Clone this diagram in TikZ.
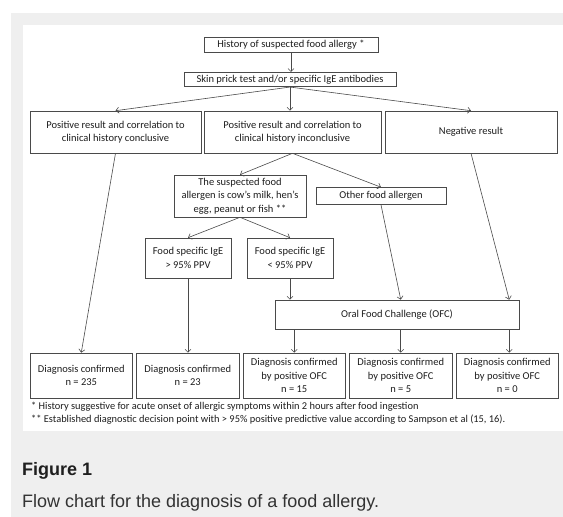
\documentclass[tikz,border=0pt]{standalone}
\usepackage{fontspec}
\setmainfont{Carlito}
\newfontfamily\arialfont{Liberation Sans}
\usetikzlibrary{arrows.meta}
\definecolor{panelgray}{HTML}{EFEFEF}
\definecolor{linegray}{HTML}{4A4A4A}
\definecolor{txt}{HTML}{1E1E1E}
\tikzset{
  fbox/.style={draw=linegray, line width=0.6pt, fill=white, inner sep=0pt, align=center,
    text=txt, font=\fontsize{10.5}{13.5}\selectfont},
  conn/.style={draw=linegray, line width=0.6pt, -{Straight Barb[length=3pt,width=6pt]}},
  foot/.style={anchor=base west, inner sep=0pt, text=txt, font=\fontsize{10.4}{12}\selectfont},
}
\begin{document}
\begin{tikzpicture}[x=1pt,y=-1pt]
\useasboundingbox (0,0) rectangle (563,517);
\fill[white] (0,0) rectangle (563,517);
\fill[panelgray] (11,13) rectangle (563,517);
\fill[white] (23,25) rectangle (563,431);

\node[fbox, minimum width=174pt, minimum height=15pt] (hist) at (291,44.5) {History of suspected food allergy *};
\node[fbox, minimum width=212pt, minimum height=14.5pt] (skin) at (290,79.5) {Skin prick test and/or specific IgE antibodies};

\node[fbox, minimum width=171pt, minimum height=42pt] (posC) at (115.5,132) {Positive result and correlation to\\clinical history conclusive};
\node[fbox, minimum width=177pt, minimum height=42pt] (posI) at (292.5,132) {Positive result and correlation to\\clinical history inconclusive};
\node[fbox, minimum width=172pt, minimum height=42pt] (neg) at (471,132) {Negative result};

\node[fbox, minimum width=132pt, minimum height=42pt] (susp) at (240,196) {The suspected food\\allergen is cow's milk, hen's\\egg, peanut or fish **};
\node[fbox, minimum width=130pt, minimum height=17pt] (other) at (381,196) {Other food allergen};

\node[fbox, minimum width=86pt, minimum height=40pt] (igeA) at (188,258) {Food specific IgE\\> 95\% PPV};
\node[fbox, minimum width=86pt, minimum height=40pt] (igeB) at (290,258) {Food specific IgE\\< 95\% PPV};

\node[fbox, minimum width=244pt, minimum height=29pt] (ofc) at (397,314.5) {Oral Food Challenge (OFC)};

\node[fbox, minimum width=102.5pt, minimum height=45pt] (b1) at (81.25,375.5) {Diagnosis confirmed\\n = 235};
\node[fbox, minimum width=102.5pt, minimum height=45pt] (b2) at (187.75,375.5) {Diagnosis confirmed\\n = 23};
\node[fbox, minimum width=102.5pt, minimum height=45pt] (b3) at (294.25,375.5) {Diagnosis confirmed\\by positive OFC\\n = 15};
\node[fbox, minimum width=102.5pt, minimum height=45pt] (b4) at (400.75,375.5) {Diagnosis confirmed\\by positive OFC\\n = 5};
\node[fbox, minimum width=102.5pt, minimum height=45pt] (b5) at (507.25,375.5) {Diagnosis confirmed\\by positive OFC\\n = 0};

\draw[conn] (hist.south) -- (hist.south |- skin.north);
\draw[conn] (skin.south) -- (posC.north);
\draw[conn] (skin.south) -- (skin.south |- posI.north);
\draw[conn] (skin.south) -- (neg.north);
\draw[conn] (posI.south) -- (susp.north);
\draw[conn] (posI.south) -- (other.north);
\draw[conn] (susp.south) -- (igeA.north);
\draw[conn] (susp.south) -- (igeB.north);
\draw[conn] (posC.south) -- (b1.north);
\draw[conn] (igeA.south) -- (igeA.south |- b2.north);
\draw[conn] (igeB.south) -- (igeB.south |- ofc.north);
\draw[conn] (other.south) -- (b4.north |- ofc.north);
\draw[conn] (neg.south) -- ([xshift=2pt]b5.north |- ofc.north);
\draw[conn] (b3.north |- ofc.south) -- (b3.north);
\draw[conn] (b4.north |- ofc.south) -- (b4.north);
\draw[conn] ([xshift=2pt]b5.north |- ofc.south) -- ([xshift=2pt]b5.north);

\node[foot] (f1) at (31,409) {* History suggestive for acute onset of allergic symptoms within 2 hours after food ingestion};
\node[foot] (f2) at (31,422.5) {** Established diagnostic decision point with > 95\% positive predictive value according to Sampson et al (15, 16).};

\node[anchor=west, inner sep=0pt, text=black!88, font=\arialfont\bfseries\fontsize{18}{21}\selectfont] (fig) at (22,471) {Figure 1};
\node[anchor=west, inner sep=0pt, text=black!80, font=\arialfont\fontsize{18}{21}\selectfont] (cap) at (22,503) {Flow chart for the diagnosis of a food allergy.};
\end{tikzpicture}
\end{document}
